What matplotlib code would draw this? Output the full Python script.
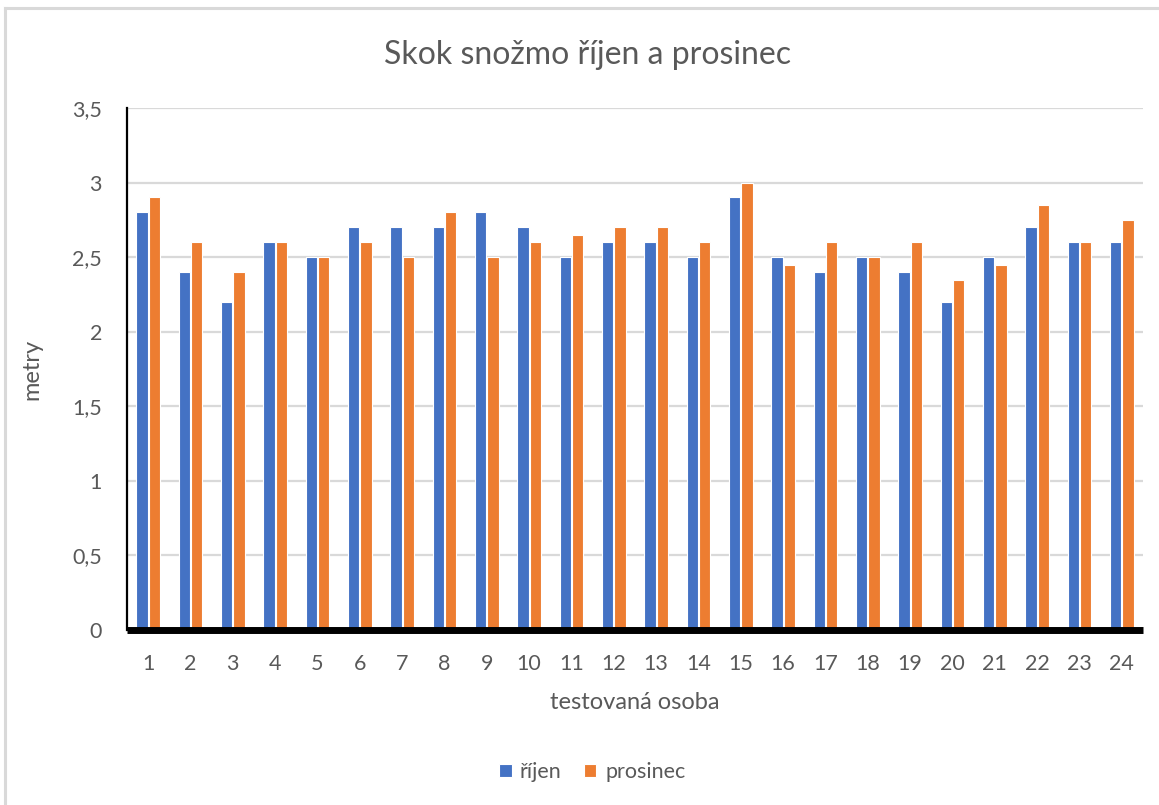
import matplotlib
matplotlib.use("Agg")
import matplotlib.pyplot as plt
from matplotlib.lines import Line2D
import numpy as np

# Jump test results (metres) per tested person
persons = [str(i) for i in range(1, 25)]
rijen = [2.8, 2.4, 2.2, 2.6, 2.5, 2.7, 2.7, 2.7, 2.8, 2.7, 2.5, 2.6,
         2.6, 2.5, 2.9, 2.5, 2.4, 2.5, 2.4, 2.2, 2.5, 2.7, 2.6, 2.6]
prosinec = [2.9, 2.6, 2.4, 2.6, 2.5, 2.6, 2.5, 2.8, 2.5, 2.6, 2.65, 2.7,
            2.7, 2.6, 3.0, 2.45, 2.6, 2.5, 2.6, 2.35, 2.45, 2.85, 2.6, 2.75]
y_ticks = [0, 0.5, 1, 1.5, 2, 2.5, 3, 3.5]
y_tick_labels = ["0", "0,5", "1", "1,5", "2", "2,5", "3", "3,5"]

title = "Skok snožmo říjen a prosinec"
series_names = ["říjen", "prosinec"]
colors = ["#4472C4", "#ED7D31"]
text_color = "#595959"
grid_color = "#D9D9D9"

plt.rcParams["font.family"] = ["Lato", "DejaVu Sans"]

W, H = 1159, 805
fig = plt.figure(figsize=(W / 100, H / 100), dpi=100)

# outer frame of the chart area
fig.add_artist(Line2D([5 / W, 1.0], [1 - 8 / H, 1 - 8 / H], transform=fig.transFigure,
                      color=grid_color, lw=2.2))
fig.add_artist(Line2D([5 / W, 5 / W], [0.0, 1 - 8 / H], transform=fig.transFigure,
                      color=grid_color, lw=2.2))

left, right, top, bottom = 127, 1143, 108, 630
ax = fig.add_axes([left / W, 1 - bottom / H, (right - left) / W, (bottom - top) / H])

x = np.arange(1, len(persons) + 1)
bw = 0.27
off = 0.145
ax.bar(x - off, rijen, width=bw, color=colors[0], edgecolor="white", linewidth=0.8,
       label=series_names[0], zorder=3)
ax.bar(x + off, prosinec, width=bw, color=colors[1], edgecolor="white", linewidth=0.8,
       label=series_names[1], zorder=3)

ax.set_xlim(0.5, len(persons) + 0.5)
ax.set_ylim(0, 3.5)
ax.set_xticks(x)
ax.set_xticklabels(persons)
ax.set_yticks(y_ticks)
ax.set_yticklabels(y_tick_labels)
ax.tick_params(axis="both", length=0, labelsize=15.5, labelcolor=text_color)
ax.tick_params(axis="x", pad=17)
ax.tick_params(axis="y", pad=18)

ax.yaxis.grid(True, color=grid_color, linewidth=1.6, zorder=0)
ax.set_axisbelow(True)

for s in ["top", "right"]:
    ax.spines[s].set_visible(False)
ax.spines["left"].set_color("black")
ax.spines["left"].set_linewidth(1.6)
ax.spines["bottom"].set_color("black")
ax.spines["bottom"].set_linewidth(5)
ax.spines["bottom"].set_zorder(4)
ax.spines["bottom"].set_capstyle("butt")

ax.set_xlabel("testovaná osoba", fontsize=17, color=text_color, labelpad=13)
ax.set_ylabel("metry", fontsize=17, color=text_color)
ax.yaxis.set_label_coords(-0.083, 0.5)

fig.text(588 / W, 1 - 55 / H, title, ha="center", va="center", fontsize=23,
         color=text_color)

fig.legend(loc="center", bbox_to_anchor=(592 / W, 1 - 772 / H), ncol=2,
           frameon=False, fontsize=15.5, labelcolor=text_color,
           handlelength=0.6, handleheight=0.6, handletextpad=0.4, columnspacing=1.0)

fig.savefig("out.png", dpi=100, facecolor="white")
